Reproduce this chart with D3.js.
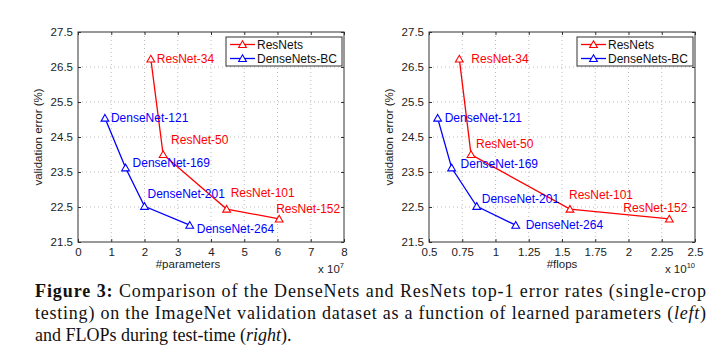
<!DOCTYPE html>
<html>
<head>
<meta charset="utf-8">
<script src="https://cdn.jsdelivr.net/npm/d3@7"></script>
<style>
  body { margin: 0; background: #fff; }
  svg { display: block; }
  .tick-label, .axis-title, .pt-label, .legend-text { font-family: "Liberation Sans", Arial, sans-serif; }
  .caption { font-family: "Liberation Serif", "Times New Roman", serif; }
</style>
</head>
<body>
<svg id="fig" width="720" height="363"></svg>
<script>
// model names
const resnetNames = ["ResNet-34", "ResNet-50", "ResNet-101", "ResNet-152"];
const densenetNames = ["DenseNet-121", "DenseNet-169", "DenseNet-201", "DenseNet-264"];

// top-1 error (%)
const resnetErr = [26.73, 24.0, 22.44, 22.16];
const densenetErr = [25.04, 23.62, 22.52, 21.98];

// #parameters (x 10^7) and #flops (x 10^10)
const resnetParams = [2.19, 2.56, 4.47, 6.05];
const densenetParams = [0.81, 1.43, 2.0, 3.36];
const resnetFlops = [0.728, 0.816, 1.56, 2.307];
const densenetFlops = [0.565, 0.67, 0.859, 1.152];

// axis ticks
const errTicks = [21.5, 22.5, 23.5, 24.5, 25.5, 26.5, 27.5];
const paramTicks = [0, 1, 2, 3, 4, 5, 6, 7, 8];
const flopTicks = [0.5, 0.75, 1, 1.25, 1.5, 1.75, 2, 2.25, 2.5];

const legendNames = ["ResNets", "DenseNets-BC"];
const RED = "#ff0000", BLUE = "#0000ff";

const svg = d3.select("#fig");

// label offsets (pixels) relative to each marker, per panel
const leftOffsets = {
  res: [[6, 0], [8, -15], [4, -16], [-3, -10]],
  dense: [[6, 0], [7, -5], [3, -13], [7, 4]]
};
const rightOffsets = {
  res: [[12, 0], [5, -11], [-1, -14], [-46, -11]],
  dense: [[7, 0], [9, -4], [5, -8], [10, 0]]
};

function drawPanel(opts) {
  const { left, top, width, height, xDomain, xTicks, resX, denseX, xTitle, xTitleX, expo, offsets } = opts;
  const g = svg.append("g").attr("transform", `translate(${left},${top})`);

  const x = d3.scaleLinear().domain(xDomain).range([0, width]);
  const y = d3.scaleLinear().domain([21.5, 27.5]).range([height, 0]);

  // grid
  g.append("g").selectAll("line").data(xTicks.slice(1, -1)).join("line")
    .attr("x1", d => x(d)).attr("x2", d => x(d)).attr("y1", 0).attr("y2", height)
    .attr("stroke", "#aaa").attr("stroke-width", 0.8).attr("stroke-dasharray", "1,3");
  g.append("g").selectAll("line").data(errTicks.slice(1, -1)).join("line")
    .attr("y1", d => y(d)).attr("y2", d => y(d)).attr("x1", 0).attr("x2", width)
    .attr("stroke", "#aaa").attr("stroke-width", 0.8).attr("stroke-dasharray", "1,3");

  // axes (ticks inside, box on)
  const axB = g.append("g").attr("transform", `translate(0,${height})`)
    .call(d3.axisBottom(x).tickValues(xTicks).tickSizeInner(-3).tickSizeOuter(0).tickPadding(6).tickFormat(d => String(d)));
  const axL = g.append("g")
    .call(d3.axisLeft(y).tickValues(errTicks).tickSizeInner(-3).tickSizeOuter(0).tickPadding(5).tickFormat(d3.format(".1f")));
  g.append("g").call(d3.axisTop(x).tickValues(xTicks).tickSizeInner(-3).tickSizeOuter(0).tickFormat(""));
  g.append("g").attr("transform", `translate(${width},0)`)
    .call(d3.axisRight(y).tickValues(errTicks).tickSizeInner(-3).tickSizeOuter(0).tickFormat(""));
  g.selectAll(".domain").remove();
  g.selectAll(".tick line").attr("stroke", "#333");
  [axB, axL].forEach(a => a.selectAll("text").attr("class", "tick-label")
    .attr("font-size", 11.5).attr("fill", "#222"));
  g.append("rect").attr("width", width).attr("height", height)
    .attr("fill", "none").attr("stroke", "#333").attr("stroke-width", 1);

  // axis titles
  g.append("text").attr("class", "axis-title")
    .attr("transform", `translate(-36,${height / 2}) rotate(-90)`)
    .attr("text-anchor", "middle").attr("font-size", 11.5).attr("fill", "#222")
    .text("validation error (%)");
  g.append("text").attr("class", "axis-title")
    .attr("x", xTitleX).attr("y", height + 26)
    .attr("text-anchor", "middle").attr("font-size", 11.5).attr("fill", "#222")
    .text(xTitle);
  const ex = g.append("text").attr("class", "axis-title")
    .attr("x", width).attr("y", height + 31).attr("text-anchor", "end")
    .attr("font-size", 11.5).attr("fill", "#222");
  ex.append("tspan").text("x 10");
  ex.append("tspan").attr("dy", -5).attr("font-size", 7.5).text(expo);

  const line = d3.line().x(d => x(d[0])).y(d => y(d[1]));
  const tri = d3.symbol().type(d3.symbolTriangle).size(26);

  const series = [
    { xs: resX, ys: resnetErr, names: resnetNames, color: RED, off: offsets.res },
    { xs: denseX, ys: densenetErr, names: densenetNames, color: BLUE, off: offsets.dense }
  ];
  series.forEach(s => {
    const pts = s.xs.map((v, i) => [v, s.ys[i]]);
    g.append("path").datum(pts).attr("d", line)
      .attr("fill", "none").attr("stroke", s.color).attr("stroke-width", 1.3);
    g.append("g").selectAll("path").data(pts).join("path")
      .attr("d", tri).attr("transform", d => `translate(${x(d[0])},${y(d[1]) + 0.8})`)
      .attr("fill", "#fff").attr("stroke", s.color).attr("stroke-width", 1.1);
    g.append("g").selectAll("text").data(pts).join("text")
      .attr("class", "pt-label")
      .attr("x", (d, i) => x(d[0]) + s.off[i][0])
      .attr("y", (d, i) => y(d[1]) + s.off[i][1])
      .attr("dy", "0.35em").attr("font-size", 12).attr("fill", s.color)
      .text((d, i) => s.names[i]);
  });

  // legend
  const lg = g.append("g").attr("transform", `translate(${width - 118},5)`);
  lg.append("rect").attr("width", 116).attr("height", 29)
    .attr("fill", "#fff").attr("stroke", "#333").attr("stroke-width", 1);
  [RED, BLUE].forEach((c, i) => {
    const ly = 7.5 + i * 14;
    lg.append("line").attr("x1", 4).attr("x2", 29).attr("y1", ly).attr("y2", ly)
      .attr("stroke", c).attr("stroke-width", 1.3);
    lg.append("path").attr("d", tri).attr("transform", `translate(16.5,${ly + 0.8})`)
      .attr("fill", "#fff").attr("stroke", c).attr("stroke-width", 1.1);
    lg.append("text").attr("class", "legend-text").attr("x", 31).attr("y", ly)
      .attr("dy", "0.35em").attr("font-size", 12).attr("fill", "#111")
      .text(legendNames[i]);
  });
}

drawPanel({
  left: 78, top: 32, width: 266, height: 210,
  xDomain: [0, 8], xTicks: paramTicks,
  resX: resnetParams, denseX: densenetParams,
  xTitle: "#parameters", xTitleX: 110, expo: "7", offsets: leftOffsets
});
drawPanel({
  left: 429, top: 32, width: 266, height: 210,
  xDomain: [0.5, 2.5], xTicks: flopTicks,
  resX: resnetFlops, denseX: densenetFlops,
  xTitle: "#flops", xTitleX: 133, expo: "10", offsets: rightOffsets
});

// caption
const cap = svg.append("g").attr("class", "caption").attr("font-size", 18).attr("fill", "#111");
const l1 = cap.append("text").attr("x", 35).attr("y", 297)
  .attr("textLength", 671).attr("lengthAdjust", "spacing");
l1.append("tspan").attr("font-weight", "bold").text("Figure 3:");
l1.append("tspan").text(" Comparison of the DenseNets and ResNets top-1 error rates (single-crop");
const l2 = cap.append("text").attr("x", 35).attr("y", 319)
  .attr("textLength", 671).attr("lengthAdjust", "spacing");
l2.append("tspan").text("testing) on the ImageNet validation dataset as a function of learned parameters (");
l2.append("tspan").attr("font-style", "italic").text("left");
l2.append("tspan").text(")");
const l3 = cap.append("text").attr("x", 35).attr("y", 341);
l3.append("tspan").text("and FLOPs during test-time (");
l3.append("tspan").attr("font-style", "italic").text("right");
l3.append("tspan").text(").");
</script>
</body>
</html>
